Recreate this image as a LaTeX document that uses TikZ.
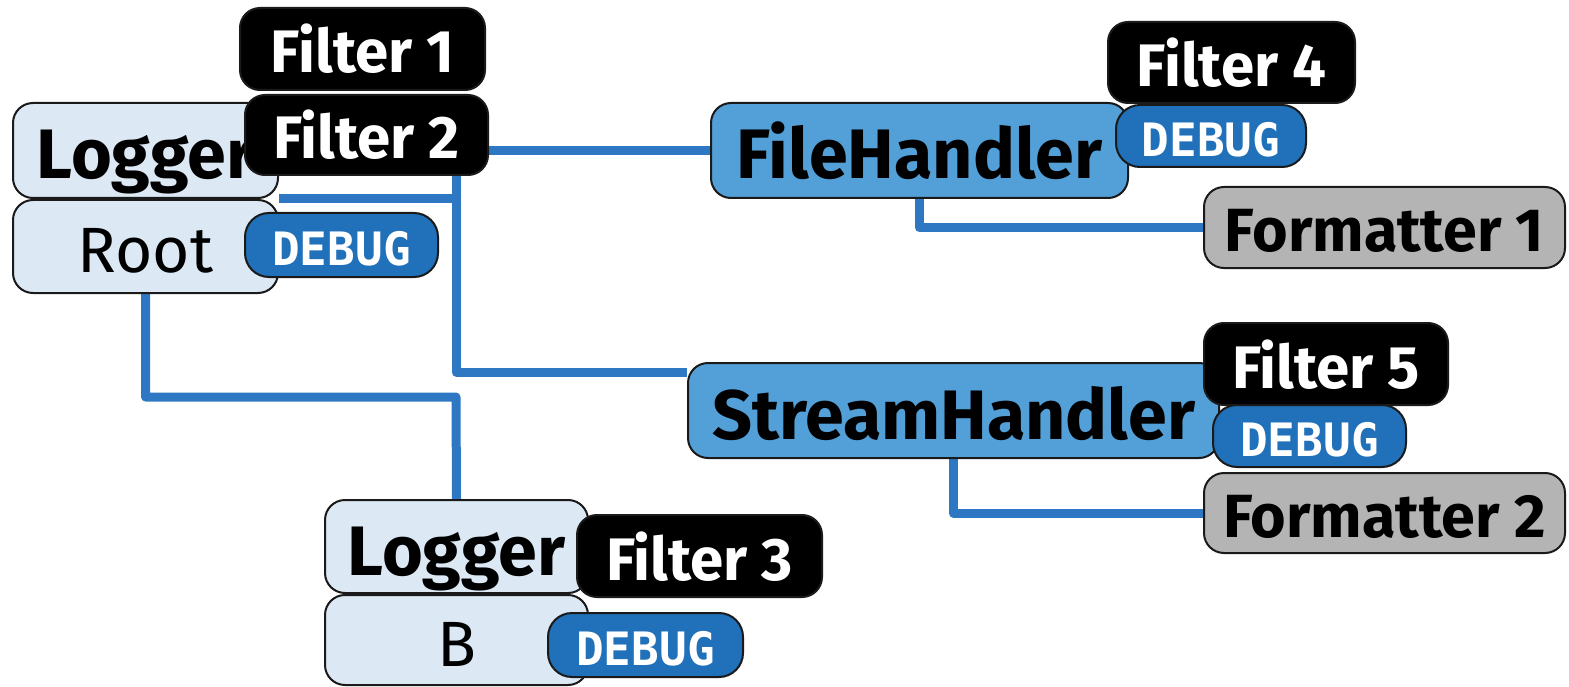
\documentclass[tikz,border=0pt]{standalone}
\usepackage{fontspec}
\setmainfont{Fira Sans}
\newfontfamily\headfont{Fira Sans}
\newfontfamily\levelfont{DejaVu Sans Mono}
\usetikzlibrary{backgrounds}

\definecolor{paleblue}{HTML}{DCE9F4}
\definecolor{midblue}{HTML}{539FD7}
\definecolor{deepblue}{HTML}{2070BA}
\definecolor{linkblue}{HTML}{2E78C3}
\definecolor{fmtgray}{HTML}{B4B4B4}
\definecolor{edgeline}{HTML}{1A1A1A}

\tikzset{
  box/.style={draw=edgeline, line width=2pt, rounded corners=20pt, inner sep=0pt, text depth=0pt},
  loggerbox/.style={box, fill=paleblue, font=\headfont\bfseries\fontsize{70}{70}\selectfont, text height=57pt},
  namebox/.style={box, fill=paleblue, font=\headfont\fontsize{64}{64}\selectfont, text height=52pt},
  handlerbox/.style={box, fill=midblue, font=\headfont\bfseries\fontsize{70}{70}\selectfont, text height=57pt},
  filterbox/.style={box, fill=black, text=white, font=\headfont\bfseries\fontsize{60}{60}\selectfont, text height=48pt},
  levelbox/.style={box, fill=deepblue, text=white, rounded corners=24pt, font=\levelfont\bfseries\fontsize{46}{46}\selectfont, text height=41pt},
  fmtbox/.style={box, fill=fmtgray, font=\headfont\bfseries\fontsize{61}{61}\selectfont, text height=48pt},
  link/.style={draw=linkblue, line width=9pt, line join=round},
}

\begin{document}
\begin{tikzpicture}[x=1pt, y=-1pt]
\useasboundingbox (0,0) rectangle (1569,687);

% root logger
\node[loggerbox, minimum width=265pt, minimum height=95pt] (lg) at (145.5,150.5) {Logger};
\node[namebox, minimum width=265pt, minimum height=93pt] (rt) at (145.5,246.5) {Root};
\node[filterbox, minimum width=245pt, minimum height=82pt] (f1) at (362.5,49) {Filter 1};
\node[filterbox, minimum width=243pt, minimum height=80pt] (f2) at (366.5,135) {Filter 2};
\node[levelbox, minimum width=193pt, minimum height=64pt] (d1) at (341.5,245) {DEBUG};

% file handler
\node[handlerbox, minimum width=417pt, minimum height=95pt] (fh) at (919.5,150.5) {FileHandler};
\node[filterbox, minimum width=247pt, minimum height=81pt] (f4) at (1231.5,62.5) {Filter 4};
\node[levelbox, minimum width=190pt, minimum height=62pt] (d4) at (1211,136) {DEBUG};
\node[fmtbox, minimum width=361pt, minimum height=81pt] (fm1) at (1384.5,227.5) {Formatter 1};

% stream handler
\node[handlerbox, minimum width=531pt, minimum height=95pt] (sh) at (953.5,410.5) {StreamHandler};
\node[filterbox, minimum width=244pt, minimum height=82pt] (f5) at (1326,364) {Filter 5};
\node[levelbox, minimum width=193pt, minimum height=62pt] (d5) at (1309.5,436) {DEBUG};
\node[fmtbox, minimum width=361pt, minimum height=80pt] (fm2) at (1384.5,513) {Formatter 2};

% logger B
\node[loggerbox, minimum width=263pt, minimum height=93pt] (lb) at (456.5,546.5) {Logger};
\node[namebox, minimum width=263pt, minimum height=90pt] (bb) at (456.5,640) {B};
\node[filterbox, minimum width=245pt, minimum height=82pt] (f3) at (699.5,556) {Filter 3};
\node[levelbox, minimum width=195pt, minimum height=64pt] (d6) at (645.5,645) {DEBUG};

% connectors, kept beneath the boxes
\begin{scope}[on background layer]
  \fill[white] (0,0) rectangle (1569,687);
  \coordinate (j) at (456,199);
  \coordinate (k) at (456,372);
  \coordinate (m) at (456,397);
  \draw[link] (lg.south east) -- (j);
  \draw[link] (j |- f2.south) -- (k) -- (k -| sh.west);
  \draw[link] (f2.east |- fh.west) -- (fh.west);
  \draw[link] (rt.south) |- (m) -- (lb.north);
  \draw[link] (fh.south) |- (fm1.west);
  \draw[link] (sh.south) |- (fm2.west);
\end{scope}
\end{tikzpicture}
\end{document}
